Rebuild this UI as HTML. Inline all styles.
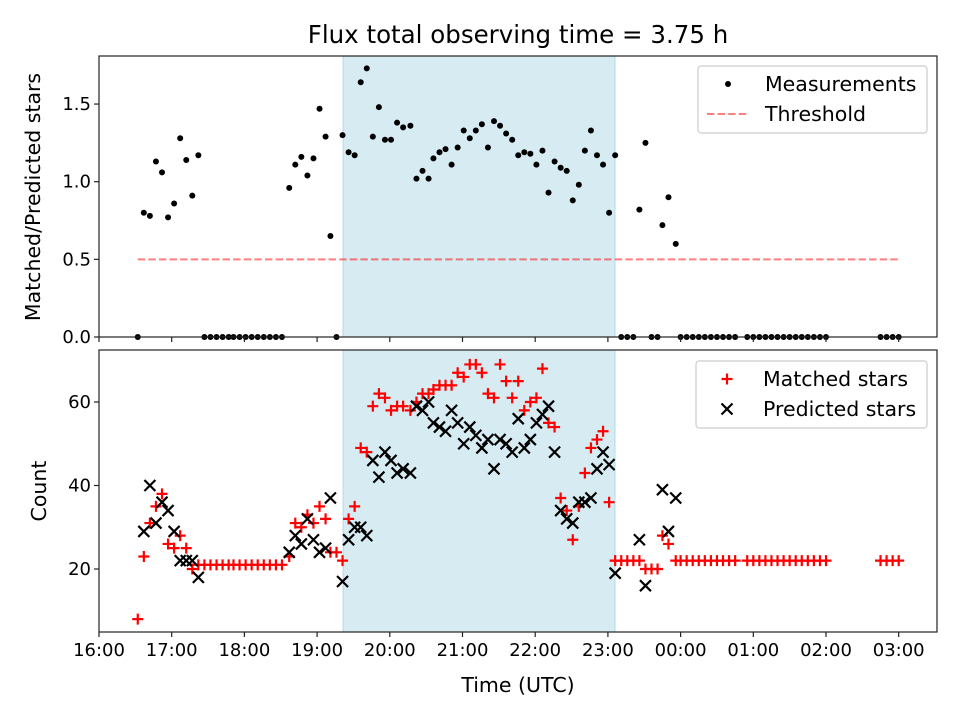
<!DOCTYPE html>
<html><head><meta charset="utf-8"><style>
body{margin:0;background:#fff}
svg{display:block;font-family:"DejaVu Sans","Liberation Sans",sans-serif}
</style></head><body>
<svg id="fig" width="960" height="720" viewBox="0 0 960 720"></svg>
<script>
// minutes after 16:00 UTC
const times=[32,37,42,47,52,57,62,67,72,77,82,87,92,97,102,107,111,116,121,126,131,136,141,146,151,157,162,167,172,177,182,187,191,196,201,206,211,216,221,226,231,236,241,246,251,257,262,267,272,276,281,286,291,296,301,306,311,316,321,326,331,336,341,346,351,356,361,366,371,376,381,386,391,396,401,406,411,416,421,426,431,436,441,446,451,456,461,465,470,476,480,485,490,495,500,505,510,515,520,525,535,540,545,550,555,560,565,570,575,580,585,590,595,600,645,650,655,660];
const ratios=[0,.80,.78,1.13,1.06,.77,.86,1.28,1.14,.91,1.17,0,0,0,0,0,0,0,0,0,0,0,0,0,0,.96,1.11,1.16,1.04,1.15,1.47,1.29,.65,0,1.30,1.19,1.17,1.64,1.73,1.29,1.48,1.27,1.27,1.38,1.35,1.36,1.02,1.07,1.02,1.15,1.19,1.21,1.11,1.22,1.33,1.28,1.33,1.37,1.22,1.39,1.36,1.31,1.27,1.17,1.19,1.18,1.11,1.20,.93,1.13,1.09,1.07,.88,.98,1.20,1.33,1.17,1.11,.80,1.17,0,0,0,.82,1.25,0,0,.72,.90,.60,0,0,0,0,0,0,0,0,0,0,0,0,0,0,0,0,0,0,0,0,0,0,0,0,0,0,0,0];
const matched=[8,23,31,35,38,26,25,28,25,20,21,21,21,21,21,21,21,21,21,21,21,21,21,21,21,23,31,30,33,31,35,32,24,24,22,32,35,49,48,59,62,61,58,59,59,58,60,62,62,63,64,64,64,67,66,69,69,67,62,61,69,65,61,65,58,60,61,68,55,54,37,34,27,35,43,49,51,53,36,22,22,22,22,22,20,20,20,28,26,22,22,22,22,22,22,22,22,22,22,22,22,22,22,22,22,22,22,22,22,22,22,22,22,22,22,22,22,22];
const predicted=[null,29,40,31,36,34,29,22,22,22,18,null,null,null,null,null,null,null,null,null,null,null,null,null,null,24,28,26,32,27,24,25,37,null,17,27,30,30,28,46,42,48,46,43,44,43,59,58,60,55,54,53,58,55,50,54,52,49,51,44,51,50,48,56,49,51,55,57,59,48,34,32,31,36,36,37,44,48,45,19,null,null,null,27,16,null,null,39,29,37,null,null,null,null,null,null,null,null,null,null,null,null,null,null,null,null,null,null,null,null,null,null,null,null,null,null,null,null];
const hourLabels=["16:00","17:00","18:00","19:00","20:00","21:00","22:00","23:00","00:00","01:00","02:00","03:00"];
const topTicks=[0,0.5,1.0,1.5];
const botTicks=[20,40,60];
const threshold=0.5;
const spanStart=201.4, spanEnd=425.9;

const NS="http://www.w3.org/2000/svg";
const svg=document.getElementById('fig');
function mk(t,a,p){const e=document.createElementNS(NS,t);for(const k in a)e.setAttribute(k,a[k]);(p||svg).appendChild(e);return e;}
const L=99,R=937,T1=56,B1=337,T2=350,B2=632;
const xs=m=>L+m/60*72.7;
const y1=v=>B1-v*155.3;
const y2=v=>569-(v-20)*4.175;

let s=mk('rect',{x:xs(spanStart),y:T1,width:xs(spanEnd)-xs(spanStart),height:B1-T1,fill:'rgba(173,216,230,0.5)',stroke:'rgba(150,200,220,0.6)','stroke-width':1});


s=mk('rect',{x:xs(spanStart),y:T2,width:xs(spanEnd)-xs(spanStart),height:B2-T2,fill:'rgba(173,216,230,0.5)',stroke:'rgba(150,200,220,0.6)','stroke-width':1});



let th=mk('line',{x1:xs(times[0]),x2:xs(times[times.length-1]),y1:y1(threshold),y2:y1(threshold),stroke:'rgba(255,0,0,0.5)','stroke-width':2,'stroke-dasharray':'7.4,3.2'});



times.forEach((t,i)=>{
  const c=mk('circle',{cx:xs(t),cy:y1(ratios[i]),r:3,fill:'#000'});
  
  
});
times.forEach((t,i)=>{
  const x=xs(t),y=y2(matched[i]);
  const g=mk('path',{d:`M${x-5.5},${y}H${x+5.5}M${x},${y-5.5}V${y+5.5}`,stroke:'red','stroke-width':2.2});
  
  
});
times.forEach((t,i)=>{
  if(predicted[i]===null)return;
  const x=xs(t),y=y2(predicted[i]);
  const g=mk('path',{d:`M${x-5.5},${y-5.5}L${x+5.5},${y+5.5}M${x-5.5},${y+5.5}L${x+5.5},${y-5.5}`,stroke:'#000','stroke-width':2.2});
  
  
});

let f=mk('rect',{x:L,y:T1,width:R-L,height:B1-T1,fill:'none',stroke:'#222','stroke-width':1.2});


f=mk('rect',{x:L,y:T2,width:R-L,height:B2-T2,fill:'none',stroke:'#222','stroke-width':1.2});



hourLabels.forEach((lab,i)=>{
  const x=xs(i*60);
  mk('line',{x1:x,x2:x,y1:B1,y2:B1+5,stroke:'#222','stroke-width':1.2});
  mk('line',{x1:x,x2:x,y1:B2,y2:B2+5,stroke:'#222','stroke-width':1.2});
  const t=mk('text',{x:x,y:B2+24,'text-anchor':'middle','font-size':18});
  t.textContent=lab;
  
  
});
topTicks.forEach(v=>{
  const y=y1(v);
  mk('line',{x1:L-5,x2:L,y1:y,y2:y,stroke:'#222','stroke-width':1.2});
  const t=mk('text',{x:L-8,y:y+6,'text-anchor':'end','font-size':18});
  t.textContent=v.toFixed(1);
  
  
});
botTicks.forEach(v=>{
  const y=y2(v);
  mk('line',{x1:L-5,x2:L,y1:y,y2:y,stroke:'#222','stroke-width':1.2});
  const t=mk('text',{x:L-8,y:y+6,'text-anchor':'end','font-size':18});
  t.textContent=v;
  
  
});
</script>
<svg width="960" height="720" style="position:absolute;left:0;top:0" font-family="DejaVu Sans, Liberation Sans, sans-serif">
  <text x="518" y="43" text-anchor="middle" font-size="24.5">Flux total observing time = 3.75 h</text>
  <text transform="translate(40,197) rotate(-90)" text-anchor="middle" font-size="20.5">Matched/Predicted stars</text>
  <text transform="translate(46,491) rotate(-90)" text-anchor="middle" font-size="20.5">Count</text>
  <text x="518" y="692" text-anchor="middle" font-size="20.5">Time (UTC)</text>
  <g>
    <rect x="698" y="66" width="229" height="67" rx="3" fill="rgba(255,255,255,0.8)" stroke="#ccc" stroke-width="1.2"/>
    <circle cx="728" cy="84" r="3" fill="#000"/>
    <text x="765" y="91" font-size="20.5">Measurements</text>
    <line x1="707" x2="748" y1="114" y2="114" stroke="rgba(255,0,0,0.5)" stroke-width="2" stroke-dasharray="7.4,3.2"/>
    <text x="765" y="121" font-size="20.5">Threshold</text>
  </g>
  <g>
    <rect x="696" y="361" width="231" height="67" rx="3" fill="rgba(255,255,255,0.8)" stroke="#ccc" stroke-width="1.2"/>
    <path d="M721.5,379H732.5M727,373.5V384.5" stroke="red" stroke-width="2.2"/>
    <text x="763" y="386" font-size="20.5">Matched stars</text>
    <path d="M721.5,403.5L732.5,414.5M721.5,414.5L732.5,403.5" stroke="#000" stroke-width="2.2"/>
    <text x="763" y="416" font-size="20.5">Predicted stars</text>
  </g>
</svg>
</body></html>
